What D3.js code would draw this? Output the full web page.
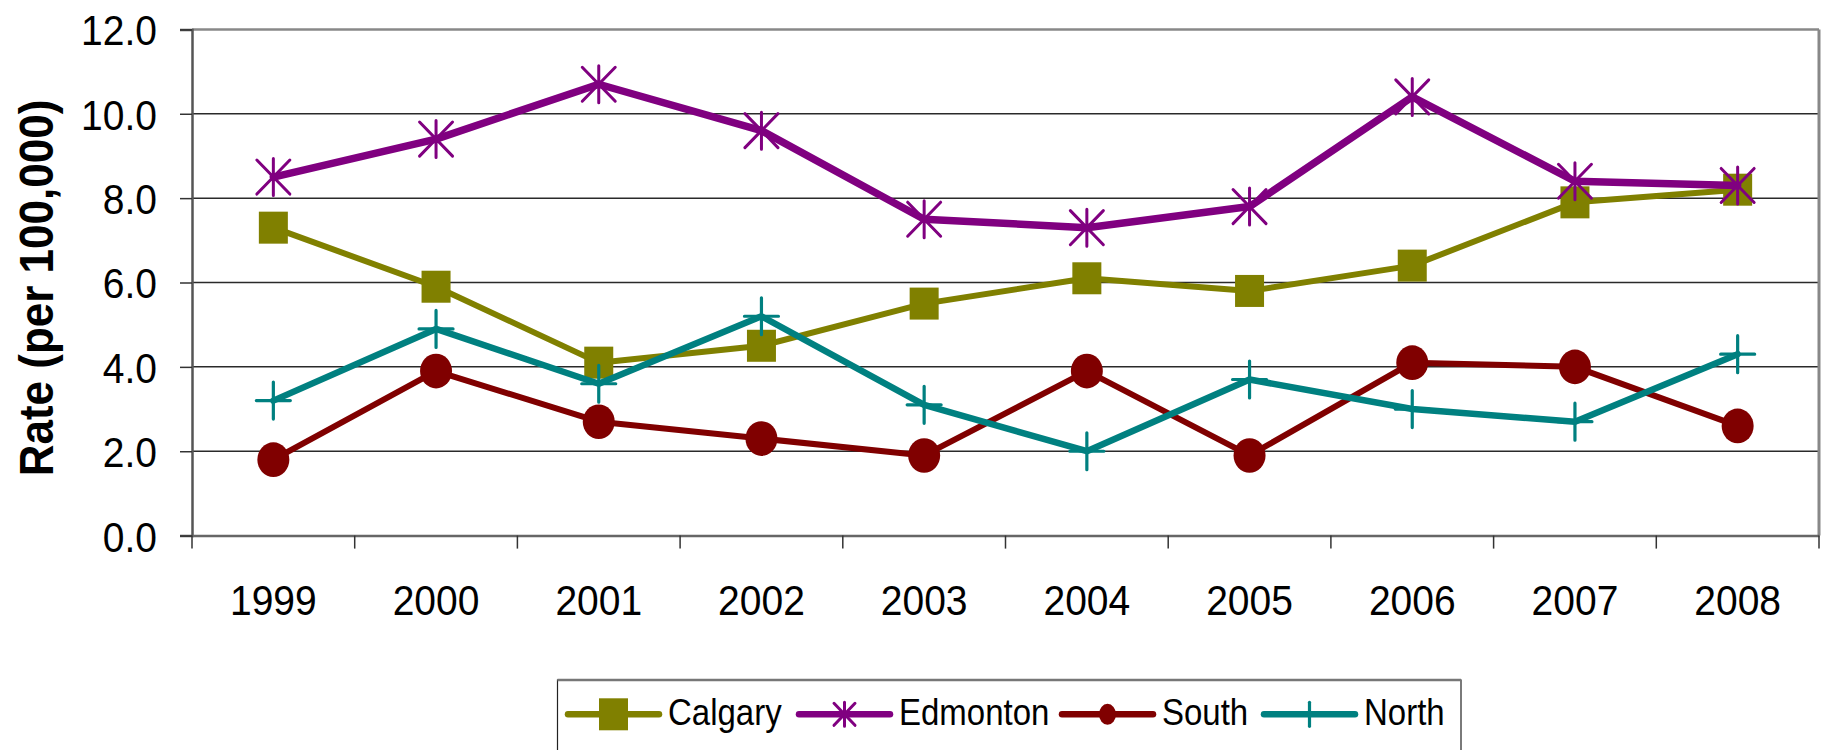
<!DOCTYPE html>
<html><head><meta charset="utf-8">
<script src="https://cdn.jsdelivr.net/npm/d3@7"></script>
<style>html,body{margin:0;padding:0;background:#fff;}svg{display:block;}</style>
</head><body>
<svg id="c" width="1827" height="750"></svg>
<script>
const years = ["1999","2000","2001","2002","2003","2004","2005","2006","2007","2008"];
const calgary  = [7.3, 5.9, 4.1, 4.5, 5.5, 6.1, 5.8, 6.4, 7.9, 8.2];
const edmonton = [8.5, 9.4, 10.7, 9.6, 7.5, 7.3, 7.8, 10.4, 8.4, 8.3];
const south    = [1.8, 3.9, 2.7, 2.3, 1.9, 3.9, 1.9, 4.1, 4.0, 2.6];
const north    = [3.2, 4.9, 3.6, 5.2, 3.1, 2.0, 3.7, 3.0, 2.7, 4.3];
const yTicks = [0, 2, 4, 6, 8, 10, 12];
const seriesNames = ["Calgary", "Edmonton", "South", "North"];

const series = [
  {name: seriesNames[0], values: calgary,  color: "#808000", marker: "square", lw: 6},
  {name: seriesNames[1], values: edmonton, color: "#800080", marker: "star",   lw: 7.5},
  {name: seriesNames[2], values: south,    color: "#800000", marker: "circle", lw: 6},
  {name: seriesNames[3], values: north,    color: "#008080", marker: "plus",   lw: 6.5}
];

const L = 192, R = 1819, T = 29.4, B = 535.6;
const FONT = "'Liberation Sans', Arial, sans-serif";
const SY = 1.1;
const svg = d3.select("#c");

const x = d3.scaleBand().domain(years).range([L, R]).paddingInner(0).paddingOuter(0);
const y = d3.scaleLinear().domain([0, 12]).range([B, T]);
const cx = d => x(d) + x.bandwidth() / 2;

// gridlines
svg.append("g").selectAll("line").data(yTicks.filter(v => v > 0 && v < 12)).join("line")
  .attr("x1", L).attr("x2", R).attr("y1", d => y(d)).attr("y2", d => y(d))
  .attr("stroke", "#2a2a2a").attr("stroke-width", 1.5);

// plot border top/right
svg.append("line").attr("x1", L).attr("x2", R).attr("y1", T).attr("y2", T)
  .attr("stroke", "#888").attr("stroke-width", 2.5);
svg.append("line").attr("x1", R).attr("x2", R).attr("y1", T).attr("y2", B)
  .attr("stroke", "#888").attr("stroke-width", 3);

// y axis
const yAxis = d3.axisLeft(y).tickValues(yTicks).tickSize(12).tickFormat(d3.format(".1f"));
const ya = svg.append("g").attr("transform", `translate(${L},0)`).call(yAxis);
ya.select(".domain").attr("stroke", "#555").attr("stroke-width", 2.5);
ya.selectAll(".tick line").attr("stroke", "#333").attr("stroke-width", 1.5);
ya.selectAll(".tick text").remove();
ya.selectAll(".tick").append("g")
  .attr("transform", `translate(-35,0) scale(1,${SY})`)
  .append("text")
  .attr("text-anchor", "end").attr("y", 14)
  .attr("font-family", FONT).attr("font-size", 39).attr("fill", "#000")
  .text(d => d3.format(".1f")(d));

// x axis
const xa = svg.append("g").attr("transform", `translate(0,${B})`)
  .call(d3.axisBottom(x).tickSize(0).tickFormat(""));
xa.select(".domain").attr("stroke", "#666").attr("stroke-width", 2.5);
xa.selectAll(".tick").remove();
const bounds = years.map(d => x(d)).concat([R]);
svg.append("g").selectAll("line").data(bounds).join("line")
  .attr("x1", d => d).attr("x2", d => d).attr("y1", B).attr("y2", B + 13)
  .attr("stroke", "#333").attr("stroke-width", 1.5);
svg.append("g").selectAll("g").data(years).join("g")
  .attr("transform", d => `translate(${cx(d)},615) scale(1,${SY})`)
  .append("text").attr("text-anchor", "middle")
  .attr("font-family", FONT).attr("font-size", 39).attr("fill", "#000")
  .text(d => d);

// y title
svg.append("g").attr("transform", `translate(52.5,288) rotate(-90) scale(1,1.09)`)
  .append("text").attr("text-anchor", "middle")
  .attr("font-family", FONT).attr("font-size", 44).attr("font-weight", "bold").attr("fill", "#000")
  .text("Rate (per 100,000)");

function drawMarker(g, type, color, px, py, big) {
  if (type === "square") {
    const w = 29, h = 32;
    g.append("rect").attr("x", px - w / 2).attr("y", py - h / 2).attr("width", w).attr("height", h).attr("fill", color);
  } else if (type === "circle") {
    const rx = big ? 16 : 8.5, ry = big ? 17.3 : 10.5;
    g.append("ellipse").attr("cx", px).attr("cy", py).attr("rx", rx).attr("ry", ry).attr("fill", color);
  } else if (type === "star") {
    const hw = big ? 16.5 : 10.5, hh = big ? 18.5 : 12;
    const p = d3.path();
    p.moveTo(px, py - hh); p.lineTo(px, py + hh);
    p.moveTo(px - hw, py - hh * 0.92); p.lineTo(px + hw, py + hh * 0.92);
    p.moveTo(px + hw, py - hh * 0.92); p.lineTo(px - hw, py + hh * 0.92);
    g.append("path").attr("d", p.toString()).attr("stroke", color).attr("stroke-width", 3)
      .attr("stroke-linecap", "round").attr("fill", "none");
  } else if (type === "plus") {
    const hw = big ? 17 : 0, hh = big ? 18.5 : 12;
    const p = d3.path();
    p.moveTo(px, py - hh); p.lineTo(px, py + hh);
    if (big) { p.moveTo(px - hw, py); p.lineTo(px + hw, py); }
    g.append("path").attr("d", p.toString()).attr("stroke", color).attr("stroke-width", 3.2)
      .attr("stroke-linecap", "round").attr("fill", "none");
  }
}

const line = d3.line().x((d, i) => cx(years[i])).y(d => y(d));
series.forEach(s => {
  const g = svg.append("g");
  g.append("path").attr("d", line(s.values)).attr("fill", "none")
    .attr("stroke", s.color).attr("stroke-width", s.lw)
    .attr("stroke-linejoin", "round").attr("stroke-linecap", "round");
  s.values.forEach((v, i) => drawMarker(g, s.marker, s.color, cx(years[i]), y(v), true));
});

// legend
const lg = svg.append("g");
lg.append("rect").attr("x", 557.5).attr("y", 680).attr("width", 1461 - 557.5).attr("height", 100)
  .attr("fill", "#fff").attr("stroke", "#222").attr("stroke-width", 1.2);
lg.append("line").attr("x1", 557.5).attr("x2", 1461).attr("y1", 680).attr("y2", 680)
  .attr("stroke", "#777").attr("stroke-width", 2.5);
const legendX = [568, 799, 1062, 1264];
const ly = 714.3;
series.forEach((s, i) => {
  const x0 = legendX[i], x1 = x0 + 91, mx = (x0 + x1) / 2;
  lg.append("line").attr("x1", x0).attr("x2", x1).attr("y1", ly).attr("y2", ly)
    .attr("stroke", s.color).attr("stroke-width", 6.5).attr("stroke-linecap", "round");
  drawMarker(lg, s.marker, s.color, mx, ly, false);
  lg.append("g").attr("transform", `translate(${x1 + 9},725) scale(1,${SY})`)
    .append("text").attr("font-family", FONT).attr("font-size", 33).attr("fill", "#000")
    .text(s.name);
});
</script>
</body></html>
